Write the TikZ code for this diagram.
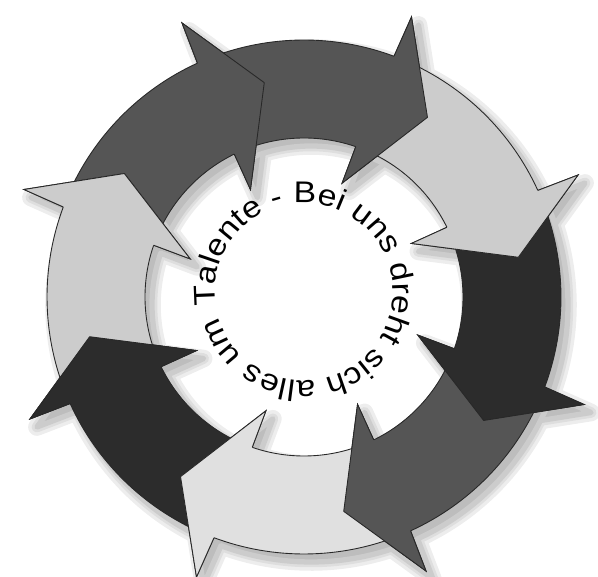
\documentclass[tikz,border=0pt]{standalone}
\usepackage{fontspec}
\usetikzlibrary{calc}
\newfontfamily\slogan{Liberation Sans}
\definecolor{ringdark}{RGB}{85,85,85}
\definecolor{ringlight}{RGB}{204,204,204}
\definecolor{ringpale}{RGB}{224,224,224}
\definecolor{ringblack}{RGB}{44,44,44}
\definecolor{rimline}{RGB}{40,40,40}

\begin{document}
\begin{tikzpicture}[x=0.02cm, y=0.02cm,
    ringarrow/.style={insert path={({#1+56}:257) arc[start angle=#1+56, end angle=#1+14, radius=257]
        -- ({#1+13.5}:300) -- (#1:218) -- ({#1+16}:120) -- ({#1+15.5}:159)
        arc[start angle=#1+15.5, end angle=#1+56, radius=159] -- cycle}},
    ringhead/.style={insert path={({#1+14}:257) -- ({#1+13.5}:300) -- (#1:218)
        -- ({#1+16}:120) -- ({#1+15.5}:159)}},
    rim/.style={draw=rimline, line width=0.5pt, line join=miter},
    haze/.style={draw=black!#1, line join=round},
    letter/.style={font=\slogan\fontsize{17}{20}\selectfont, inner sep=0pt, anchor=base}]
  \useasboundingbox (-304,-280) rectangle (294,297);

  % soft shadow, lower right
  \begin{scope}[shift={(7,-8)}]
    \foreach \t in {100.5,55.5,10.5,-34.5,-79.5,-124.5,-169.5,145.5}
      \path[haze=7, line width=10pt] [ringarrow=\t];
    \foreach \t in {100.5,55.5,10.5,-34.5,-79.5,-124.5,-169.5,145.5}
      \path[haze=13, line width=6pt] [ringarrow=\t];
    \foreach \t in {100.5,55.5,10.5,-34.5,-79.5,-124.5,-169.5,145.5}
      \path[haze=20, line width=3pt, fill=black!26] [ringarrow=\t];
  \end{scope}

  \foreach \t/\c in {100.5/ringdark, 55.5/ringdark, 10.5/ringlight, -34.5/ringblack,
                     -79.5/ringdark, -124.5/ringpale, -169.5/ringblack, 145.5/ringlight}
    \path[rim, fill=\c] [ringarrow=\t];
  \foreach \t/\c in {100.5/ringdark, 55.5/ringdark, 10.5/ringlight, -34.5/ringblack,
                     -79.5/ringdark, -124.5/ringpale, -169.5/ringblack, 145.5/ringlight}
  {
    \fill[\c] [ringhead=\t];
    \draw[rim] [ringhead=\t];
  }

  % slogan round the hole, letter by letter (advance widths in 1/1000 em)
  \foreach \ch/\w [count=\i, remember=\s as \p (initially 0)] in
      {T/611, a/556, l/222, e/556, n/556, t/278, e/556, {}/278, -/333, {}/278,
       B/667, e/556, i/222, {}/278, u/556, n/556, s/500, {}/278,
       d/556, r/333, e/556, h/556, t/278, {}/278, s/500, i/222, c/500, h/556, {}/278,
       a/556, l/222, l/222, e/556, s/500, {}/278, u/556, m/833}
  {
    \pgfmathsetmacro\s{\p+\w}
    \pgfmathsetmacro\a{189-(\p+\w/2)*0.02183}
    \ifx\ch\empty\else
      \node[letter, rotate=\a-90, xscale=1.13] (ch\i) at ($(0,5)+(\a:89)$) {\ch};
    \fi
  }
\end{tikzpicture}
\end{document}
